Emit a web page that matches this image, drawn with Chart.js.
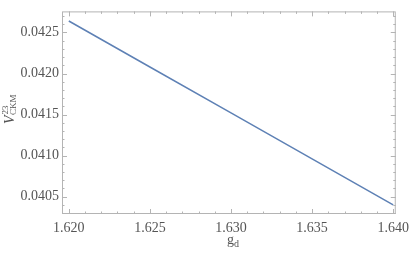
<!DOCTYPE html>
<html>
<head>
<meta charset="utf-8">
<script src="https://cdn.jsdelivr.net/npm/chart.js@4.4.1/dist/chart.umd.min.js"></script>
<style>
  html, body { margin: 0; padding: 0; background: #fff; }
  #wrap { width: 415px; height: 254px; }
</style>
</head>
<body>
<div id="wrap"><canvas id="cv"></canvas></div>
<script>
// values
const gd = [1.620, 1.625, 1.630, 1.635, 1.640];
const vckm = [0.04264, 0.04208, 0.04152, 0.04096, 0.04040];

const xTicks = [1.620, 1.625, 1.630, 1.635, 1.640];
const yTicks = [0.0405, 0.0410, 0.0415, 0.0420, 0.0425];

const frameColor = "#b4b4b4";
const labelColor = "#555555";
const serif = "'Liberation Serif', 'DejaVu Serif', serif";

// frame + inward ticks on all four sides, like Mathematica
const framePlugin = {
  id: "frame",
  beforeDatasetsDraw(chart) {
    const { ctx, chartArea: a, scales } = chart;
    const xs = scales.x, ys = scales.y;
    ctx.save();
    ctx.strokeStyle = frameColor;
    ctx.lineWidth = 1;
    ctx.strokeRect(a.left + 0.5, a.top + 0.5, a.right - a.left - 1, a.bottom - a.top - 1);

    ctx.beginPath();
    // x ticks, minor every 0.001
    for (let i = 0; i <= 20; i++) {
      const v = 1.620 + i * 0.001;
      const px = Math.round(xs.getPixelForValue(v)) + 0.5;
      const len = i % 5 === 0 ? 5 : 2.5;
      ctx.moveTo(px, a.bottom); ctx.lineTo(px, a.bottom - len);
      ctx.moveTo(px, a.top); ctx.lineTo(px, a.top + len);
    }
    // y ticks, minor every 0.0001
    for (let i = -2; i <= 22; i++) {
      const v = 0.0405 + i * 0.0001;
      if (v < ys.min || v > ys.max) continue;
      const py = Math.round(ys.getPixelForValue(v)) + 0.5;
      const len = (i % 5 === 0) ? 5 : 2.5;
      ctx.moveTo(a.left, py); ctx.lineTo(a.left + len, py);
      ctx.moveTo(a.right, py); ctx.lineTo(a.right - len, py);
    }
    ctx.stroke();
    ctx.restore();
  },
  afterDraw(chart) {
    const ctx = chart.ctx;
    ctx.save();
    ctx.fillStyle = labelColor;
    ctx.textBaseline = "alphabetic";
    ctx.textAlign = "left";
    // x title: g_d
    ctx.font = "14px " + serif;
    ctx.fillText("g", 227, 244);
    ctx.font = "10px " + serif;
    ctx.fillText("d", 234, 247);

    // y title: V^23_CKM, rotated
    ctx.translate(14, 124);
    ctx.rotate(-Math.PI / 2);
    ctx.font = "italic 14px " + serif;
    ctx.fillText("V", 0, 0);
    const w = ctx.measureText("V").width;
    ctx.font = "9px " + serif;
    ctx.fillText("23", w + 1, -6);
    ctx.fillText("CKM", w + 0.5, 2);
    ctx.restore();
  }
};

new Chart(document.getElementById("cv"), {
  type: "line",
  data: {
    labels: gd,
    datasets: [
      {
        data: gd.map((x, i) => ({ x: x, y: vckm[i] })),
        borderColor: "#5e81b5",
        borderWidth: 1.5,
        pointRadius: 0,
        tension: 0,
        fill: false,
      },
    ],
  },
  options: {
    responsive: true,
    maintainAspectRatio: false,
    animation: false,
    layout: { padding: { top: 3, right: 10, left: 0, bottom: 0 } },
    plugins: { legend: { display: false }, tooltip: { enabled: false } },
    scales: {
      x: {
        type: "linear",
        min: 1.61958,
        max: 1.64016,
        grid: { display: false, drawTicks: false },
        border: { display: false },
        afterBuildTicks: (s) => { s.ticks = xTicks.map((v) => ({ value: v })); },
        afterFit: (s) => { s.height = 40; },
        ticks: {
          padding: 6,
          color: labelColor,
          font: { family: serif, size: 14 },
          maxRotation: 0,
          autoSkip: false,
          callback: (v) => Number(v).toFixed(3),
        },
      },
      y: {
        type: "linear",
        min: 0.040289,
        max: 0.042757,
        grid: { display: false, drawTicks: false },
        border: { display: false },
        afterBuildTicks: (s) => { s.ticks = yTicks.map((v) => ({ value: v })); },
        afterFit: (s) => { s.width = 62; },
        ticks: {
          padding: 3,
          color: labelColor,
          font: { family: serif, size: 14 },
          autoSkip: false,
          callback: (v) => Number(v).toFixed(4),
        },
      },
    },
  },
  plugins: [framePlugin],
});
</script>
</body>
</html>
